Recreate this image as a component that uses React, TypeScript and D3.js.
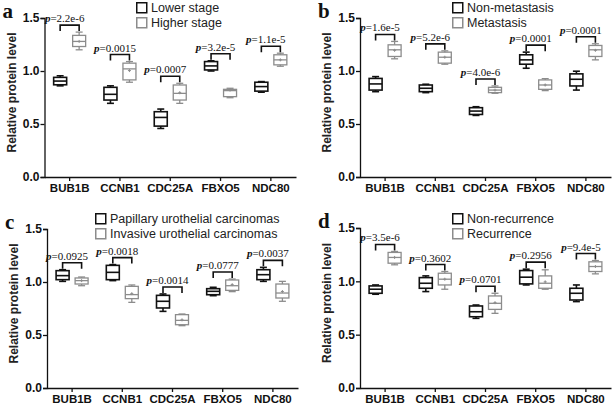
import { useEffect, useRef } from 'react'
import * as d3 from 'd3'

const GENES = ['BUB1B', 'CCNB1', 'CDC25A', 'FBXO5', 'NDC80']
const Y_TICKS = [0, 0.5, 1.0, 1.5]

// box summaries: [whisker low, q1, median, q3, whisker high]
const A_LOWER = [
  [0.86, 0.87, 0.905, 0.94, 0.955],
  [0.695, 0.726, 0.78, 0.846, 0.86],
  [0.458, 0.48, 0.562, 0.616, 0.641],
  [1.0, 1.01, 1.048, 1.089, 1.096],
  [0.8, 0.81, 0.853, 0.894, 0.9],
]
const A_HIGHER = [
  [1.2, 1.231, 1.279, 1.336, 1.367],
  [0.894, 0.916, 1.02, 1.074, 1.089],
  [0.695, 0.726, 0.789, 0.868, 0.884],
  [0.748, 0.758, 0.815, 0.827, 0.837],
  [1.045, 1.058, 1.105, 1.153, 1.168],
]
const A_HIGHER_MEAN = [1.279, 1.004, 0.795, 0.82, 1.105]
const A_P = ['2.2e-6', '0.0015', '0.0007', '3.2e-5', '1.1e-5']

const B_NONMET = [
  [0.805, 0.82, 0.878, 0.93, 0.947],
  [0.796, 0.805, 0.837, 0.868, 0.875],
  [0.581, 0.59, 0.622, 0.654, 0.663],
  [1.026, 1.064, 1.105, 1.153, 1.178],
  [0.82, 0.859, 0.922, 0.973, 0.998],
]
const B_MET = [
  [1.115, 1.137, 1.2, 1.247, 1.279],
  [1.064, 1.074, 1.13, 1.178, 1.19],
  [0.79, 0.796, 0.82, 0.846, 0.859],
  [0.815, 0.827, 0.868, 0.916, 0.928],
  [1.105, 1.137, 1.2, 1.241, 1.257],
]
const B_MET_MEAN = [1.195, 1.13, 0.82, 0.868, 1.195]
const B_P = ['1.6e-5', '5.2e-6', '4.0e-6', '0.0001', '0.0001']

const C_PAPILLARY = [
  [1.006, 1.022, 1.06, 1.107, 1.116],
  [1.013, 1.022, 1.091, 1.157, 1.164],
  [0.723, 0.755, 0.818, 0.874, 0.887],
  [0.871, 0.88, 0.912, 0.937, 0.95],
  [1.006, 1.022, 1.069, 1.116, 1.138],
]
const C_INVASIVE = [
  [0.965, 0.981, 1.013, 1.038, 1.047],
  [0.808, 0.843, 0.881, 0.959, 0.972],
  [0.588, 0.597, 0.638, 0.692, 0.698],
  [0.909, 0.921, 0.965, 1.019, 1.028],
  [0.818, 0.849, 0.896, 0.981, 1.006],
]
const C_INVASIVE_MEAN = [1.013, 0.89, 0.643, 0.975, 0.91]
const C_P = ['0.0925', '0.0018', '0.0014', '0.0777', '0.0037']

const D_NONREC = [
  [0.879, 0.888, 0.926, 0.957, 0.966],
  [0.904, 0.935, 0.982, 1.035, 1.051],
  [0.653, 0.668, 0.715, 0.769, 0.778],
  [0.966, 0.976, 1.039, 1.101, 1.114],
  [0.81, 0.825, 0.888, 0.935, 0.966],
]
const D_REC = [
  [1.155, 1.17, 1.224, 1.271, 1.28],
  [0.926, 0.966, 1.02, 1.076, 1.092],
  [0.7, 0.737, 0.794, 0.863, 0.888],
  [0.926, 0.935, 0.982, 1.051, 1.108],
  [1.07, 1.092, 1.139, 1.183, 1.195],
]
const D_REC_MEAN = [1.224, 1.02, 0.8, 0.995, 1.139]
const D_P = ['3.5e-6', '0.3602', '0.0701', '0.2956', '9.4e-5']

const BLACK = '#111'
const GRAY = '#8c8c8c'
const SANS = 'Arial, "Liberation Sans", sans-serif'
const SERIF = '"Times New Roman", "Liberation Serif", serif'

interface Panel {
  letter: string
  legend: [string, string]
  first: number[][]
  second: number[][]
  secondMean: number[]
  pvals: string[]
  left: number
  right: number
  yTop: number
  yBottom: number
  legendX: number
  legendY: number
}

const PANELS: Panel[] = [
  { letter: 'a', legend: ['Lower stage', 'Higher stage'], first: A_LOWER, second: A_HIGHER,
    secondMean: A_HIGHER_MEAN, pvals: A_P, left: 44.5, right: 296, yTop: 18, yBottom: 177, legendX: 136, legendY: 2 },
  { letter: 'b', legend: ['Non-metastasis', 'Metastasis'], first: B_NONMET, second: B_MET,
    secondMean: B_MET_MEAN, pvals: B_P, left: 360, right: 611, yTop: 18, yBottom: 177, legendX: 452, legendY: 2 },
  { letter: 'c', legend: ['Papillary urothelial carcinomas', 'Invasive urothelial carcinomas'], first: C_PAPILLARY,
    second: C_INVASIVE, secondMean: C_INVASIVE_MEAN, pvals: C_P, left: 47, right: 298, yTop: 229, yBottom: 388, legendX: 95, legendY: 213 },
  { letter: 'd', legend: ['Non-recurrence', 'Recurrence'], first: D_NONREC, second: D_REC,
    secondMean: D_REC_MEAN, pvals: D_P, left: 360, right: 611, yTop: 228, yBottom: 388, legendX: 452, legendY: 213 },
]

export default function App() {
  const ref = useRef<SVGSVGElement>(null)

  useEffect(() => {
    if (!ref.current) return
    d3.select(ref.current).selectAll('*').remove()
    render(ref.current)
  }, [])

  return (
    <svg
      ref={ref}
      width={613}
      height={406}
      style={{ position: 'absolute', left: 0, top: 0, background: '#fff', display: 'block' }}
    />
  )
}

function render(el: SVGSVGElement) {
  const svg = d3.select(el)
  svg.append('rect').attr('width', 613).attr('height', 406).attr('fill', '#fff')
  PANELS.forEach((p) => drawPanel(svg, p))
}

function drawPanel(svg: d3.Selection<SVGSVGElement, unknown, null, undefined>, p: Panel) {
  const g = svg.append('g')
  const x0 = d3.scaleBand().domain(GENES).range([p.left, p.right])
  const off = d3.scalePoint<number>().domain([0, 1]).range([-9.5, 9.5])
  const y = d3.scaleLinear().domain([0, 1.5]).range([p.yBottom, p.yTop])
  const boxW = 13
  const capW = 7

  // Y axis
  g.append('g')
    .attr('transform', `translate(${p.left},0)`)
    .call(d3.axisLeft(y).tickValues(Y_TICKS).tickSize(4).tickPadding(1).tickFormat(d3.format('.1f')))
    .call((sel) => sel.select('.domain').attr('stroke', BLACK).attr('stroke-width', 1.3))
    .call((sel) => sel.selectAll('line').attr('stroke', BLACK).attr('stroke-width', 1.3))
    .call((sel) =>
      sel.selectAll('text')
        .attr('font-size', 12)
        .attr('font-weight', 'bold')
        .attr('font-family', SANS)
        .attr('fill', BLACK)
    )

  // X axis
  g.append('g')
    .attr('transform', `translate(0,${p.yBottom})`)
    .call(d3.axisBottom(x0).tickSize(4).tickPadding(3).tickSizeOuter(0))
    .call((sel) => sel.select('.domain').attr('stroke', BLACK).attr('stroke-width', 1.3))
    .call((sel) => sel.selectAll('line').attr('stroke', BLACK).attr('stroke-width', 1.3))
    .call((sel) =>
      sel.selectAll('text')
        .attr('font-size', 11.5)
        .attr('font-weight', 'bold')
        .attr('font-family', SANS)
        .attr('fill', BLACK)
    )

  // Y label
  const midY = (p.yTop + p.yBottom) / 2 - 5
  g.append('text')
    .attr('transform', `translate(${p.left - 29},${midY}) rotate(-90)`)
    .attr('text-anchor', 'middle')
    .attr('font-size', 12)
    .attr('font-weight', 'bold')
    .attr('font-family', SANS)
    .attr('fill', '#222')
    .text('Relative protein level')

  // Panel letter
  g.append('text')
    .attr('x', p.left - 42)
    .attr('y', p.yTop)
    .attr('font-size', 21)
    .attr('font-weight', 'bold')
    .attr('font-family', SERIF)
    .attr('fill', BLACK)
    .text(p.letter)

  // Boxes
  const series = [
    { data: p.first, color: BLACK, width: 1.6 },
    { data: p.second, color: GRAY, width: 1.3 },
  ]
  series.forEach((s, si) => {
    s.data.forEach((d, i) => {
      const cx = x0(GENES[i])! + x0.bandwidth() / 2 + off(si)!
      const [lo, q1, med, q3, hi] = d
      const bg = g.append('g').attr('stroke', s.color).attr('stroke-width', s.width).attr('fill', 'none')
      bg.append('line').attr('x1', cx).attr('x2', cx).attr('y1', y(hi)).attr('y2', y(q3))
      bg.append('line').attr('x1', cx).attr('x2', cx).attr('y1', y(q1)).attr('y2', y(lo))
      bg.append('line').attr('x1', cx - capW / 2).attr('x2', cx + capW / 2).attr('y1', y(hi)).attr('y2', y(hi))
      bg.append('line').attr('x1', cx - capW / 2).attr('x2', cx + capW / 2).attr('y1', y(lo)).attr('y2', y(lo))
      bg.append('rect')
        .attr('x', cx - boxW / 2)
        .attr('y', y(q3))
        .attr('width', boxW)
        .attr('height', y(q1) - y(q3))
      bg.append('line').attr('x1', cx - boxW / 2).attr('x2', cx + boxW / 2).attr('y1', y(med)).attr('y2', y(med))
      if (si === 1) {
        const m = p.secondMean[i]
        bg.append('line').attr('x1', cx - 1.5).attr('x2', cx + 1.5).attr('y1', y(m)).attr('y2', y(m)).attr('stroke-width', 1)
        bg.append('line').attr('x1', cx).attr('x2', cx).attr('y1', y(m) - 1.5).attr('y2', y(m) + 1.5).attr('stroke-width', 1)
      }
    })
  })

  // Significance brackets
  GENES.forEach((gene, i) => {
    const c = x0(gene)! + x0.bandwidth() / 2
    const xa = c + off(0)!
    const xb = c + off(1)!
    const top = Math.max(p.first[i][4], p.second[i][4])
    const by = y(top) - 7
    g.append('path')
      .attr('d', `M${xa},${by + 6}V${by}H${xb}V${by + 6}`)
      .attr('fill', 'none')
      .attr('stroke', BLACK)
      .attr('stroke-width', 1.6)
    const t = g.append('text')
      .attr('x', c - 5)
      .attr('y', by - 3)
      .attr('text-anchor', 'middle')
      .attr('font-size', 11)
      .attr('font-family', SERIF)
      .attr('fill', BLACK)
    t.append('tspan').attr('font-style', 'italic').attr('font-weight', 'bold').text('p')
    t.append('tspan').text(`=${p.pvals[i]}`)
  })

  // Legend
  p.legend.forEach((label, i) => {
    const ly = p.legendY + i * 15
    g.append('rect')
      .attr('x', p.legendX + 0.75)
      .attr('y', ly + 0.75)
      .attr('width', 10)
      .attr('height', 10)
      .attr('fill', 'none')
      .attr('stroke', i === 0 ? BLACK : GRAY)
      .attr('stroke-width', 1.5)
    g.append('text')
      .attr('x', p.legendX + 15)
      .attr('y', ly + 10)
      .attr('font-size', 12.5)
      .attr('font-family', SANS)
      .attr('fill', '#222')
      .text(label)
  })
}
